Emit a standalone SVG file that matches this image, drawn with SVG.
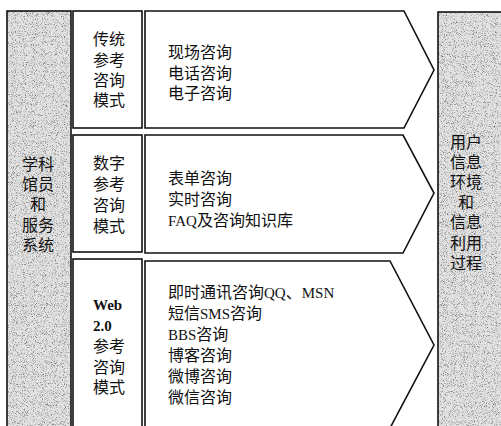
<svg xmlns="http://www.w3.org/2000/svg" width="501" height="426" viewBox="0 0 501 426">
<style>
.box{fill:#ffffff;stroke:#111111;stroke-width:1.6}
.gray{fill:#e2e2e2;stroke:none}
.edge{fill:none;stroke:#111111;stroke-width:1.6}
.t{font-family:"Liberation Serif","Noto Sans CJK SC",serif;font-size:16px;fill:#111111}
.c{text-anchor:middle}
.lat{font-size:15px}
.b{font-weight:bold}
</style>
<defs>
<filter id="grain" x="0" y="0" width="1" height="1" filterUnits="objectBoundingBox" color-interpolation-filters="sRGB">
<feTurbulence type="fractalNoise" baseFrequency="1.1" numOctaves="2" seed="7" result="n"/>
<feColorMatrix in="n" type="matrix" values="0 0 0 0 0.4  0 0 0 0 0.4  0 0 0 0 0.4  3 0 0 0 -1.55"/>
</filter>
</defs>
<rect width="501" height="426" fill="#ffffff"/>

<g id="left-system">
<rect class="gray" x="7" y="11" width="64" height="420"/>
<rect x="7" y="11" width="64" height="420" fill="#000" filter="url(#grain)"/>
<rect class="edge" x="7" y="11" width="64" height="420"/>
<text class="t c" x="38"><tspan x="38" y="170">学科</tspan><tspan x="38" y="190">馆员</tspan><tspan x="38" y="210">和</tspan><tspan x="38" y="231">服务</tspan><tspan x="38" y="251">系统</tspan></text>
</g>

<g id="right-user">
<rect class="gray" x="438" y="12" width="70" height="420"/>
<rect x="438" y="12" width="70" height="420" fill="#000" filter="url(#grain)"/>
<rect class="edge" x="438" y="12" width="70" height="420"/>
<text class="t c" x="466"><tspan x="466" y="148">用户</tspan><tspan x="466" y="168">信息</tspan><tspan x="466" y="188">环境</tspan><tspan x="466" y="208">和</tspan><tspan x="466" y="228">信息</tspan><tspan x="466" y="249">利用</tspan><tspan x="466" y="269">过程</tspan></text>
</g>

<g id="mode-traditional">
<rect class="box" x="73" y="11" width="69" height="117"/>
<text class="t" x="93"><tspan x="93" y="45">传统</tspan><tspan x="93" y="66">参考</tspan><tspan x="93" y="86">咨询</tspan><tspan x="93" y="106">模式</tspan></text>
</g>

<g id="mode-digital">
<rect class="box" x="73" y="135" width="69" height="117"/>
<text class="t" x="93"><tspan x="93" y="169">数字</tspan><tspan x="93" y="190">参考</tspan><tspan x="93" y="211">咨询</tspan><tspan x="93" y="232">模式</tspan></text>
</g>

<g id="mode-web20">
<rect class="box" x="73" y="259" width="69" height="175"/>
<text class="t" x="93"><tspan x="93" y="310" class="lat b">Web</tspan><tspan x="93" y="331" class="lat b">2.0</tspan><tspan x="93" y="352">参考</tspan><tspan x="93" y="373">咨询</tspan><tspan x="93" y="393">模式</tspan></text>
</g>

<g id="services-traditional">
<polygon class="box" points="145,11 404,11 434,70 404,128 145,128"/>
<text class="t" x="168"><tspan x="168" y="58">现场咨询</tspan><tspan x="168" y="78.5">电话咨询</tspan><tspan x="168" y="99">电子咨询</tspan></text>
</g>

<g id="services-digital">
<polygon class="box" points="145,135 403,135 434,193 403,253 145,253"/>
<text class="t" x="168"><tspan x="168" y="184">表单咨询</tspan><tspan x="168" y="205">实时咨询</tspan><tspan x="168" y="226"><tspan class="lat">FAQ</tspan>及咨询知识库</tspan></text>
</g>

<g id="services-web20">
<polygon class="box" points="145,261 390,261 434,345 389,430 145,430"/>
<text class="t" x="168"><tspan x="168" y="298">即时通讯咨询<tspan class="lat">QQ</tspan>、<tspan class="lat">MSN</tspan></tspan><tspan x="168" y="319">短信<tspan class="lat">SMS</tspan>咨询</tspan><tspan x="168" y="340"><tspan class="lat">BBS</tspan>咨询</tspan><tspan x="168" y="361">博客咨询</tspan><tspan x="168" y="382">微博咨询</tspan><tspan x="168" y="403">微信咨询</tspan></text>
</g>

<g id="connectors"></g>
</svg>
